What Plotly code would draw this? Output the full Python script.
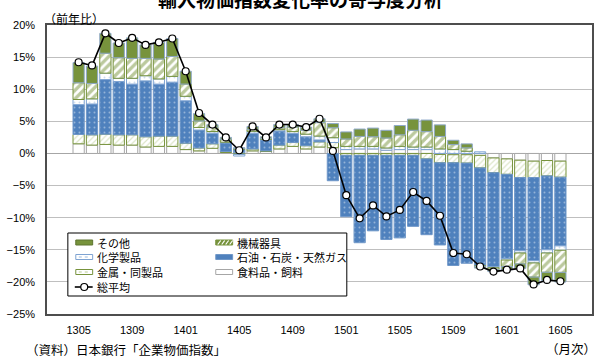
import plotly.graph_objects as go

# ---------------- data ----------------
months = ["1305", "1306", "1307", "1308", "1309", "1310", "1311", "1312",
          "1401", "1402", "1403", "1404", "1405", "1406", "1407", "1408",
          "1409", "1410", "1411", "1412", "1501", "1502", "1503", "1504",
          "1505", "1506", "1507", "1508", "1509", "1510", "1511", "1512",
          "1601", "1602", "1603", "1604", "1605"]
tick_labels = ["1305", "1309", "1401", "1405", "1409", "1501", "1505", "1509", "1601", "1605"]

food = [1.5, 1.3, 1.4, 1.3, 1.3, 1.0, 1.1, 1.1, 0.6, 0.4, 0.8, 0.15, 0.1, 0.4, 0.3, 0.7,
        1.1, 0.7, 1.0, 0.9, 0.6, 0.7, 0.7, 0.5, 0.6, 0.6, 0.6, -0.15, -0.2, -0.2, -0.3,
        -0.7, -0.85, -1.05, -1.2, -1.1, -1.2]
metal = [1.45, 1.6, 1.6, 1.6, 1.6, 1.6, 1.6, 1.6, 1.0, 0.45, 0.7, 0.15, -0.15, 0.3, 0.1, 0.6,
         0.6, 0.5, 0.8, 0.8, -0.3, -0.3, -0.3, -0.3, -0.3, -0.3, -0.85, -1.3, -1.25, -1.3, -1.95,
         -2.3, -2.4, -2.7, -2.55, -2.4, -2.5]
energy = [4.65, 4.8, 8.5, 8.3, 7.9, 8.7, 8.1, 8.4, 6.6, 2.8, 1.65, 1.35, 0.55, 2.45, 1.7, 2.2,
          1.4, 1.4, 0.3, -4.25, -9.55, -13.6, -11.75, -13.1, -12.85, -11.05, -11.8, -12.8, -16.0,
          -15.6, -15.25, -14.6, -13.1, -11.4, -12.95, -11.5, -10.7]
chem = [0.8, 0.8, 1.0, 0.5, 0.9, 0.8, 0.8, 0.9, 0.7, 0.4, 0.26, 0.1, -0.25, 0.3, 0.1, 0.2,
        0.3, 0.4, 0.6, 0.75, 0.5, 0.4, 0.4, 0.35, 0.5, 0.4, 0.4, 0.7, 0.6, 0.34, 0.25,
        -0.2, -0.25, -0.35, -0.35, -0.5, -0.67]
machinery = [2.6, 2.4, 3.1, 3.2, 3.1, 2.7, 3.1, 3.1, 1.9, 1.0, 0.67, 0.45, 0.1, 0.3, 0.1, 0.3,
             0.7, 0.6, 2.1, 1.55, 1.15, 1.55, 1.5, 1.55, 1.8, 2.6, 2.4, 1.95, 0.78, 0.53, -0.1,
             -0.3, -1.0, -1.7, -2.2, -3.0, -3.45]
other = [3.15, 2.7, 3.1, 2.3, 3.2, 2.1, 2.6, 2.8, 2.0, 1.15, 0.4, 0.3, 0.15, 0.45, 0.3, 0.5,
         0.4, 0.5, 0.6, 0.65, 1.1, 1.15, 1.35, 1.2, 1.45, 1.75, 1.8, 1.8, 0.67, 0.62, -0.25,
         -0.3, -0.5, -0.7, -1.2, -1.3, -1.5]
total = [14.2, 13.7, 18.7, 17.2, 18.0, 16.9, 17.3, 17.9, 12.8, 6.3, 4.5, 2.5, 0.5, 4.2, 2.5, 4.5,
         4.5, 4.1, 5.4, 0.4, -6.5, -10.1, -8.1, -9.8, -8.8, -6.0, -7.4, -9.7, -15.5, -15.7, -17.6,
         -18.4, -18.1, -17.9, -20.4, -19.7, -19.9]

names = ["食料品・飼料", "金属・同製品", "石油・石炭・天然ガス", "化学製品", "機械器具", "その他"]

# ---------------- styles ----------------
W, H = 601, 358
ML, MR, MT, MB = 45, 7, 25, 44
PW, PH = W - ML - MR, H - MT - MB
JP = "Noto Sans CJK JP"
NUM = "Liberation Sans"
OLIVE = "#77933C"
BLUE = "#4F81BD"

styles = [
    dict(color="white", line=dict(color="#A6A6A6", width=1)),
    dict(color="white", line=dict(color=OLIVE, width=1),
         pattern=dict(shape="/", fgcolor="#B9CC92", bgcolor="white", size=4, solidity=0.3)),
    dict(color=BLUE, line=dict(color="#6F97C8", width=1),
         pattern=dict(shape=".", fgcolor="#DCE6F2", bgcolor=BLUE, size=5, solidity=0.12)),
    dict(color="white", line=dict(color="#7EA3D2", width=1),
         pattern=dict(shape=".", fgcolor="#9DBBE0", bgcolor="white", size=5, solidity=0.12)),
    dict(color="white", line=dict(color=OLIVE, width=1),
         pattern=dict(shape="/", fgcolor=OLIVE, bgcolor="white", size=6, solidity=0.55)),
    dict(color=OLIVE, line=dict(color="#8FA9C9", width=1)),
]

fig = go.Figure()
for nm, vals, st in zip(names, [food, metal, energy, chem, machinery, other], styles):
    fig.add_trace(go.Bar(x=months, y=vals, name=nm, marker=st, showlegend=False))

fig.add_trace(go.Scatter(
    x=months, y=total, name="総平均", mode="lines+markers", showlegend=False,
    line=dict(color="black", width=1.6),
    marker=dict(symbol="circle", size=7, color="white", line=dict(color="black", width=1.2)),
))


def px(x):
    return (x - ML) / PW


def py(y):
    return (MT + PH - y) / PH


shapes = []
annotations = []

# legend box
shapes.append(dict(type="rect", xref="paper", yref="paper", layer="above",
                   x0=px(66), x1=px(347), y0=py(296), y1=py(233),
                   fillcolor="white", line=dict(color="black", width=1)))

rows = [242.5, 257.0, 272.0, 287.0]
c1s, c1t = 74, 93
c2s, c2t = 215, 234
sw, sh = 17, 5


def swatch(x, y, fill, border):
    shapes.append(dict(type="rect", xref="paper", yref="paper", layer="above",
                       x0=px(x), x1=px(x + sw), y0=py(y + sh / 2), y1=py(y - sh / 2),
                       fillcolor=fill, line=dict(color=border, width=1)))


def seg(x0, y0, x1, y1, color, width=1, dash="solid"):
    shapes.append(dict(type="line", xref="paper", yref="paper", layer="above",
                       x0=px(x0), x1=px(x1), y0=py(y0), y1=py(y1),
                       line=dict(color=color, width=width, dash=dash)))


def label(x, y, text):
    annotations.append(dict(xref="paper", yref="paper", x=px(x), y=py(y), text=text,
                            showarrow=False, xanchor="left", yanchor="middle",
                            font=dict(family=JP, size=11, color="black")))


# col 1
swatch(c1s, rows[0], OLIVE, "#5E7530")
label(c1t, rows[0], "その他")
swatch(c1s, rows[1], "white", "#7EA3D2")
seg(c1s + 3, rows[1], c1s + sw - 3, rows[1], "#9DBBE0", 1, "dot")
label(c1t, rows[1], "化学製品")
swatch(c1s, rows[2], "white", OLIVE)
seg(c1s + 3, rows[2], c1s + sw - 3, rows[2], "#B9CC92", 1, "dot")
label(c1t, rows[2], "金属・同製品")
seg(c1s - 1, rows[3], c1s + sw, rows[3], "black", 1.6)
shapes.append(dict(type="circle", xref="paper", yref="paper", layer="above",
                   x0=px(c1s + sw / 2 - 3.5), x1=px(c1s + sw / 2 + 3.5),
                   y0=py(rows[3] + 3.5), y1=py(rows[3] - 3.5),
                   fillcolor="white", line=dict(color="black", width=1.2)))
label(c1t, rows[3], "総平均")
# col 2
swatch(c2s, rows[0], OLIVE, OLIVE)
for k in range(4):
    xx = c2s + 2 + k * 4
    seg(xx, rows[0] + 2, xx + 3, rows[0] - 2, "white", 1.2)
label(c2t, rows[0], "機械器具")
swatch(c2s, rows[1], BLUE, "#6F97C8")
label(c2t, rows[1], "石油・石炭・天然ガス")
swatch(c2s, rows[2], "white", "#A6A6A6")
label(c2t, rows[2], "食料品・飼料")

# texts
annotations.append(dict(xref="paper", yref="paper", x=px(300), y=py(-1),
                        text="<b>輸入物価指数変化率の寄与度分析</b>", showarrow=False,
                        xanchor="center", yanchor="middle",
                        font=dict(family=JP, size=19, color="black")))
annotations.append(dict(xref="paper", yref="paper", x=px(40), y=py(18.5),
                        text="（前年比）", showarrow=False, xanchor="left", yanchor="middle",
                        font=dict(family=JP, size=12, color="black")))
annotations.append(dict(xref="paper", yref="paper", x=px(22), y=py(349),
                        text="（資料）日本銀行「企業物価指数」", showarrow=False,
                        xanchor="left", yanchor="middle",
                        font=dict(family=JP, size=12.5, color="black")))
annotations.append(dict(xref="paper", yref="paper", x=px(600), y=py(348),
                        text="（月次）", showarrow=False, xanchor="right", yanchor="middle",
                        font=dict(family=JP, size=12.5, color="black")))

fig.update_layout(
    width=W, height=H,
    margin=dict(l=ML, r=MR, t=MT, b=MB, pad=0),
    paper_bgcolor="white", plot_bgcolor="white",
    barmode="relative", bargap=0.16,
    showlegend=False,
    shapes=shapes, annotations=annotations,
    xaxis=dict(type="category", categoryorder="array", categoryarray=months,
               tickmode="array", tickvals=tick_labels, ticktext=tick_labels,
               showgrid=False, ticks="outside", ticklen=5, tickcolor="rgba(0,0,0,0)",
               showline=True, linecolor="#4D4D4D", linewidth=1.5, mirror=True,
               tickfont=dict(family=NUM, size=11, color="black")),
    yaxis=dict(range=[-25, 20], dtick=5, tick0=0, ticksuffix="%",
               showgrid=True, gridcolor="#BFBFBF", gridwidth=1,
               zeroline=True, zerolinecolor="#A6A6A6", zerolinewidth=1,
               ticks="outside", ticklen=8, tickcolor="rgba(0,0,0,0)",
               showline=True, linecolor="#4D4D4D", linewidth=1.5, mirror=True,
               tickfont=dict(family=NUM, size=11, color="black")),
)

fig.write_html("out.html")
